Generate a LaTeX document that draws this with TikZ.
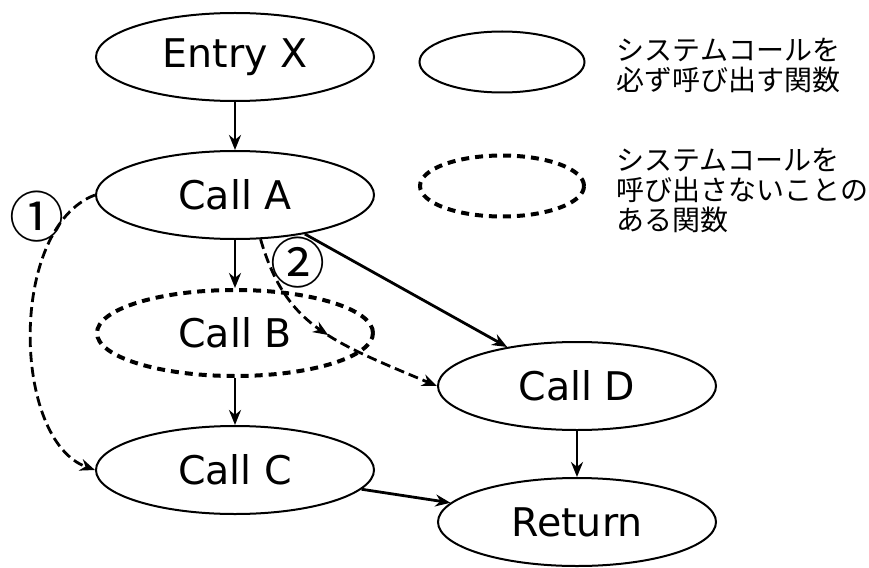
\documentclass[tikz,border=0pt]{standalone}
\usepackage{fontspec}
\setmainfont{DejaVu Sans}
\newfontfamily\jpfont{Noto Sans CJK JP}
\usetikzlibrary{arrows.meta,positioning,shapes.geometric,decorations.markings}

\begin{document}
\begin{tikzpicture}[->, >={Stealth[length=15pt,width=12pt]}, line width=2.8pt]
\tikzstyle{func} = [draw, ellipse, line width=2pt, minimum width=278pt, minimum height=88pt, font=\fontsize{39.5}{42}\selectfont]
\tikzstyle{maybe} = [func, line width=4pt, minimum width=276pt, minimum height=86pt, dash pattern=on 8pt off 6pt]
\tikzstyle{skip} = [dash pattern=on 10pt off 5pt]
\tikzstyle{midarrow} = [postaction={decorate, decoration={markings, mark=at position 0.5 with {\arrow{>}}}}]
\tikzstyle{note} = [align=left, inner sep=0pt, font=\jpfont\fontsize{28}{30}\selectfont]
\tikzstyle{num} = [inner sep=0pt, font=\jpfont\fontsize{55}{57}\selectfont]

\node [func] (entry) {Entry X};

\node [func] (calla) [below of=entry, node distance=138pt] {Call A};
\draw (entry) -- (calla);

\node [maybe] (callb) [below of=calla, node distance=138pt] {Call B};
\draw (calla) -- (callb);

\node [func] (callc) [below of=callb, node distance=137pt] {Call C};
\draw (callb) -- (callc);

\node [func] (calld) [below of=callb, node distance=53pt, xshift=342pt] {Call D};
\draw (calla) -- (calld);

\node [func] (ret) [below of=calld, node distance=136pt] {Return};
\draw (calld) -- (ret);
\draw (callc) -- (ret);

% paths that may skip the call
\node [num] (one) [left of=calla, node distance=198pt, yshift=-22pt] {①};
\draw [skip] (calla.west) .. controls +(-87pt,-33pt) and +(-83pt,30pt) .. (callc.west);

\node [num] (two) [below of=calla, node distance=68pt, xshift=63pt] {②};
\draw [skip, midarrow] (calla.-60) .. controls +(25pt,-85pt) and +(-110pt,46pt) .. (calld.west);

% legend
\node [func, minimum width=165pt, minimum height=61pt] (legfunc) [right of=entry, node distance=267pt, yshift=-5pt] {};
\node [note] (legfunctext) [right of=legfunc, node distance=113.5pt, anchor=west, yshift=-3pt] {システムコールを\\必ず呼び出す関数};

\node [maybe, minimum width=164pt, minimum height=61pt] (legmaybe) [below of=legfunc, node distance=124pt] {};
\node [note] (legmaybetext) [right of=legmaybe, node distance=113pt, anchor=west, yshift=-4.5pt] {システムコールを\\呼び出さないことの\\ある関数};

\useasboundingbox ([shift={(-235pt,57pt)}]entry.center) rectangle ++(869pt,-567pt);
\end{tikzpicture}
\end{document}
